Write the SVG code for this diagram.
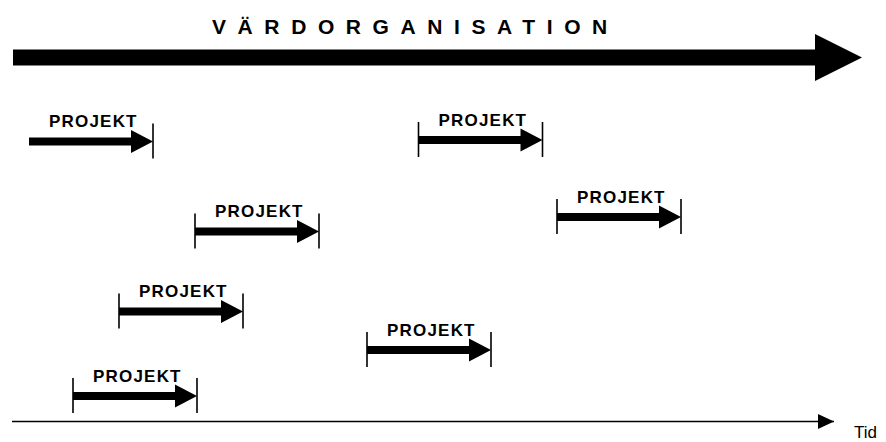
<svg xmlns="http://www.w3.org/2000/svg" xmlns:xlink="http://www.w3.org/1999/xlink" width="886" height="442" viewBox="0 0 886 442">
<style>
.lbl{font-family:"Liberation Sans",Arial,sans-serif;font-weight:bold;font-size:17px;letter-spacing:1.2px;fill:#000}
.title{font-family:"Liberation Sans",Arial,sans-serif;font-weight:bold;font-size:21px;letter-spacing:11.6px;fill:#000}
.tid{font-family:"Liberation Sans",Arial,sans-serif;font-size:17px;fill:#000}
.tick{stroke:#000;stroke-width:1.6;fill:none}
</style>
<defs>
<g id="arr">
<path d="M0,-4 H102 V-11.5 L124,0 L102,11.5 V4 H0 Z" fill="#000"/>
<line class="tick" x1="124" y1="-18" x2="124" y2="17"/>
</g>
<line id="ltick" class="tick" x1="0" y1="-18" x2="0" y2="17"/>
<marker id="tri" markerWidth="16" markerHeight="16" refX="16" refY="7.5" orient="auto" markerUnits="userSpaceOnUse">
<path d="M0,0 L16,7.5 L0,15 Z" fill="#000"/>
</marker>
</defs>
<rect width="886" height="442" fill="#fff"/>
<g id="vardorganisation">
<polygon points="13,49.5 815,49.5 815,34 862,57.5 815,81 815,65.5 13,65.5" fill="#000"/>
<text class="title" x="212" y="34">VÄRDORGANISATION</text>
</g>
<g id="p1" transform="translate(29,141.5)">
<use xlink:href="#arr"/>
<text class="lbl" x="20" y="-14.5">PROJEKT</text>
</g>
<g id="p2" transform="translate(418.5,140)">
<use xlink:href="#ltick"/><use xlink:href="#arr"/>
<text class="lbl" x="20" y="-14.5">PROJEKT</text>
</g>
<g id="p3" transform="translate(557,217)">
<use xlink:href="#ltick"/><use xlink:href="#arr"/>
<text class="lbl" x="20" y="-14.5">PROJEKT</text>
</g>
<g id="p4" transform="translate(195,231.5)">
<use xlink:href="#ltick"/><use xlink:href="#arr"/>
<text class="lbl" x="20" y="-14.5">PROJEKT</text>
</g>
<g id="p5" transform="translate(119,311.5)">
<use xlink:href="#ltick"/><use xlink:href="#arr"/>
<text class="lbl" x="20" y="-14.5">PROJEKT</text>
</g>
<g id="p6" transform="translate(367,350)">
<use xlink:href="#ltick"/><use xlink:href="#arr"/>
<text class="lbl" x="20" y="-14.5">PROJEKT</text>
</g>
<g id="p7" transform="translate(73,396)">
<use xlink:href="#ltick"/><use xlink:href="#arr"/>
<text class="lbl" x="20" y="-14.5">PROJEKT</text>
</g>
<g id="connectors">
<line x1="12" y1="421.5" x2="834" y2="421.5" stroke="#000" stroke-width="1.5" marker-end="url(#tri)"/>
</g>
<g id="tid">
<text class="tid" x="854" y="438">Tid</text>
</g>
</svg>
